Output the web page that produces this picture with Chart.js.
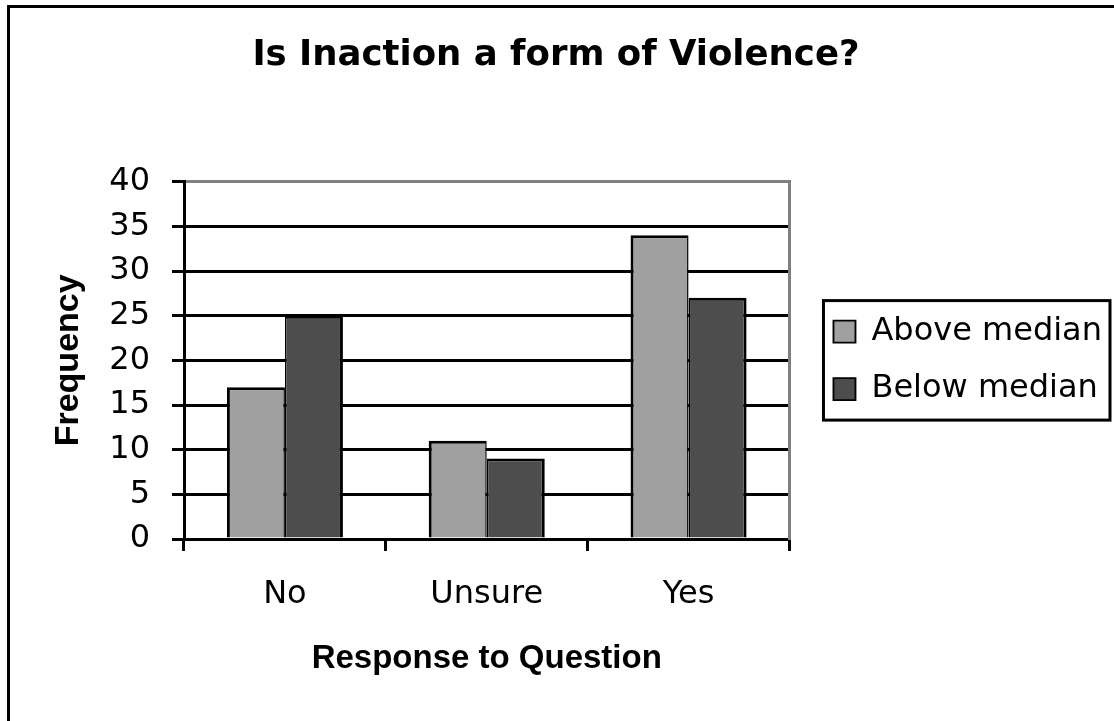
<!DOCTYPE html>
<html>
<head>
<meta charset="utf-8">
<script src="https://cdn.jsdelivr.net/npm/chart.js@4.4.1/dist/chart.umd.min.js"></script>
<style>
    html, body { margin: 0; padding: 0; background: #fff; overflow: hidden; }
    canvas { position: absolute; left: 0; top: 0; }
    #marco { position: absolute; left: 7px; top: 5px; width: 1200px; height: 800px;
             border-left: 3px solid #000; border-top: 3px solid #000; pointer-events: none; }
</style>
</head>
<body>
<canvas id="grafico" width="1114" height="721"></canvas>
<div id="marco"></div>
<script>
// Datos del grafico
const categorias = ['No', 'Unsure', 'Yes'];
const series = ['Above median', 'Below median'];
const sobreMediana = [17, 11, 34];
const bajoMediana = [25, 9, 27];
const marcasY = [0, 5, 10, 15, 20, 25, 30, 35, 40];

// Recuadro negro alrededor de la leyenda
const bordeLeyenda = {
    id: 'bordeLeyenda',
    afterDraw(chart) {
        const cajas = chart.legend.legendHitBoxes;
        if (!cajas || !cajas.length) return;
        const izq = cajas[0].left - 10;
        const arriba = cajas[0].top - 15;
        const der = Math.max(...cajas.map(c => c.left + c.width)) + 8;
        const ultima = cajas[cajas.length - 1];
        const abajo = ultima.top + ultima.height + 15;
        const ctx = chart.ctx;
        ctx.save();
        ctx.strokeStyle = '#000';
        ctx.lineWidth = 3;
        ctx.strokeRect(izq, arriba, der - izq, abajo - arriba);
        ctx.restore();
    }
};

Chart.defaults.font.family = "'DejaVu Sans', sans-serif";
Chart.defaults.color = '#000';

const ctx = document.getElementById('grafico').getContext('2d');
const chart = new Chart(ctx, {
    type: 'bar',
    data: {
        labels: categorias,
        datasets: [
            {
                label: series[0],
                data: sobreMediana,
                backgroundColor: '#a0a0a0',
                borderColor: '#000',
                borderWidth: { top: 3, left: 3, right: 1.5, bottom: 0 },
                borderSkipped: false
            },
            {
                label: series[1],
                data: bajoMediana,
                backgroundColor: '#4d4d4d',
                borderColor: '#000',
                borderWidth: { top: 3, left: 1.5, right: 3, bottom: 0 },
                borderSkipped: false
            }
        ]
    },
    options: {
        responsive: false,
        animation: false,
        events: [],
        datasets: {
            bar: { categoryPercentage: 0.575, barPercentage: 1 }
        },
        layout: { padding: { left: 0, right: 2, top: 0, bottom: 0 } },
        plugins: {
            title: {
                display: true,
                text: 'Is Inaction a form of Violence?',
                font: { size: 35.5, weight: 'bold' },
                padding: { top: 34, bottom: 105.1 }
            },
            legend: {
                display: true,
                position: 'right',
                align: 'center',
                fullSize: false,
                maxWidth: 320,
                labels: {
                    boxWidth: 22,
                    boxHeight: 22,
                    padding: 25.5,
                    font: { size: 32, lineHeight: 1 }
                }
            },
            tooltip: { enabled: false }
        },
        scales: {
            x: {
                grid: {
                    display: true,
                    offset: true,
                    drawOnChartArea: false,
                    drawTicks: true,
                    tickLength: 12,
                    color: '#000',
                    lineWidth: 3
                },
                border: { display: true, color: '#000', width: 3 },
                ticks: { font: { size: 32 }, padding: 24, maxRotation: 0 },
                title: {
                    display: true,
                    text: 'Response to Question',
                    font: { family: "'Liberation Sans', Arial, sans-serif", size: 33, weight: 'bold' },
                    padding: { top: 0, bottom: 42 }
                },
                afterFit: (escala) => { escala.height = 182; }
            },
            y: {
                min: 0,
                max: 40,
                afterBuildTicks: (escala) => { escala.ticks = marcasY.map(v => ({ value: v })); },
                grid: {
                    color: (c) => (c.tick && c.tick.value === 40 ? '#808080' : '#000'),
                    tickColor: '#000',
                    lineWidth: 3,
                    drawTicks: true,
                    tickLength: 12
                },
                border: { display: true, color: '#000', width: 3 },
                ticks: { font: { size: 32 }, padding: 22 },
                title: {
                    display: true,
                    text: 'Frequency',
                    font: { family: "'Liberation Sans', Arial, sans-serif", size: 34, weight: 'bold' },
                    padding: { top: 48, bottom: 0 }
                },
                afterFit: (escala) => { escala.width = 184; }
            },
            // eje derecho solo para el borde gris del area de trazado
            y2: {
                position: 'right',
                display: true,
                grid: { display: false, drawTicks: false },
                ticks: { display: false },
                border: { display: true, color: '#808080', width: 3 },
                afterFit: (escala) => { escala.width = 18.5; }
            }
        }
    },
    plugins: [bordeLeyenda]
});
</script>
</body>
</html>
